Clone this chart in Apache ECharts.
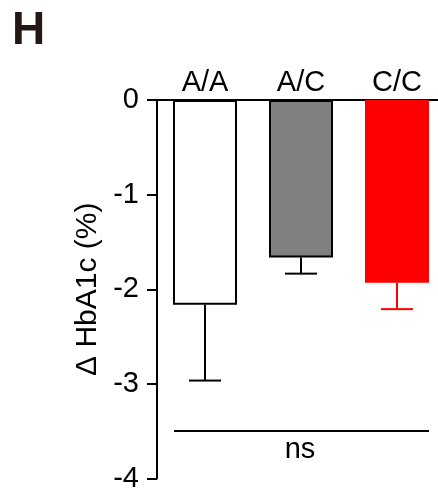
<!DOCTYPE html>
<html>
<head>
<meta charset="utf-8">
<script src="https://cdn.jsdelivr.net/npm/echarts@6/dist/echarts.min.js"></script>
<style>
  html, body { margin: 0; padding: 0; background: #fff; overflow: hidden; }
  #main { width: 445px; height: 493px; }
</style>
</head>
<body>
<div id="main"></div>
<script>
var categories = ["A/A", "A/C", "C/C"];
var means = [-2.165, -1.665, -1.93];
var errors = [0.80, 0.17, 0.28];
var yTicks = [0, -1, -2, -3, -4];

var FONT = "Liberation Sans, Arial, sans-serif";
var barColors = ["#ffffff", "#808080", "#ff0000"];
var barBorders = ["#000000", "#000000", "#ff0000"];
var errColors = ["#000000", "#000000", "#ff0000"];

var chartDom = document.getElementById("main");
var myChart = echarts.init(chartDom);
var option;

var barData = means.map(function (v, i) {
    return {
        value: v,
        itemStyle: { color: barColors[i], borderColor: barBorders[i], borderWidth: 2 },
    };
});
var errData = means.map(function (v, i) {
    return [i, v, v - errors[i]];
});

option = {
    animation: false,
    backgroundColor: "#fff",
    title: {
        text: "H",
        left: 7,
        top: 3,
        textStyle: { fontFamily: FONT, fontSize: 46, fontWeight: "bold", color: "#231815" },
    },
    grid: { left: 157, top: 100, right: 0, bottom: 11, containLabel: false },
    xAxis: {
        type: "category",
        data: categories,
        position: "top",
        axisLine: { show: true, lineStyle: { color: "#000", width: 2 } },
        axisTick: { show: false },
        axisLabel: { color: "#000", fontSize: 29, fontFamily: FONT, margin: 3 },
    },
    yAxis: {
        type: "value",
        min: -4,
        max: 0,
        interval: 1,
        name: "\u0394 HbA1c (%)",
        nameLocation: "middle",
        nameRotate: 90,
        nameGap: 53,
        nameTextStyle: { color: "#000", fontSize: 30, fontFamily: FONT },
        axisLine: { show: true, lineStyle: { color: "#000", width: 2 } },
        axisTick: { show: true, length: 10, lineStyle: { color: "#000", width: 2 } },
        axisLabel: {
            color: "#000", fontSize: 29, fontFamily: FONT, margin: 18,
            formatter: function (v) { return yTicks.indexOf(v) >= 0 ? String(v) : ""; },
        },
        splitLine: { show: false },
    },
    graphic: [
        { type: "line", shape: { x1: 174, y1: 431, x2: 429, y2: 431 }, style: { stroke: "#000", lineWidth: 2 } },
        { type: "text", x: 300, y: 450, style: { text: "ns", font: "29px " + FONT, fill: "#000", textAlign: "center", textVerticalAlign: "middle" } },
    ],
    series: [
        {
            type: "bar",
            data: barData,
            barWidth: 64,
        },
        {
            type: "custom",
            data: errData,
            z: 3,
            renderItem: function (params, api) {
                var i = api.value(0);
                var top = api.coord([i, api.value(1)]);
                var bot = api.coord([i, api.value(2)]);
                var color = errColors[params.dataIndex];
                var half = 16;
                return {
                    type: "group",
                    children: [
                        { type: "line", shape: { x1: top[0], y1: top[1], x2: bot[0], y2: bot[1] }, style: { stroke: color, lineWidth: 2 } },
                        { type: "line", shape: { x1: bot[0] - half, y1: bot[1], x2: bot[0] + half, y2: bot[1] }, style: { stroke: color, lineWidth: 2 } },
                    ],
                };
            },
        },
    ],
};

option && myChart.setOption(option);
</script>
</body>
</html>
